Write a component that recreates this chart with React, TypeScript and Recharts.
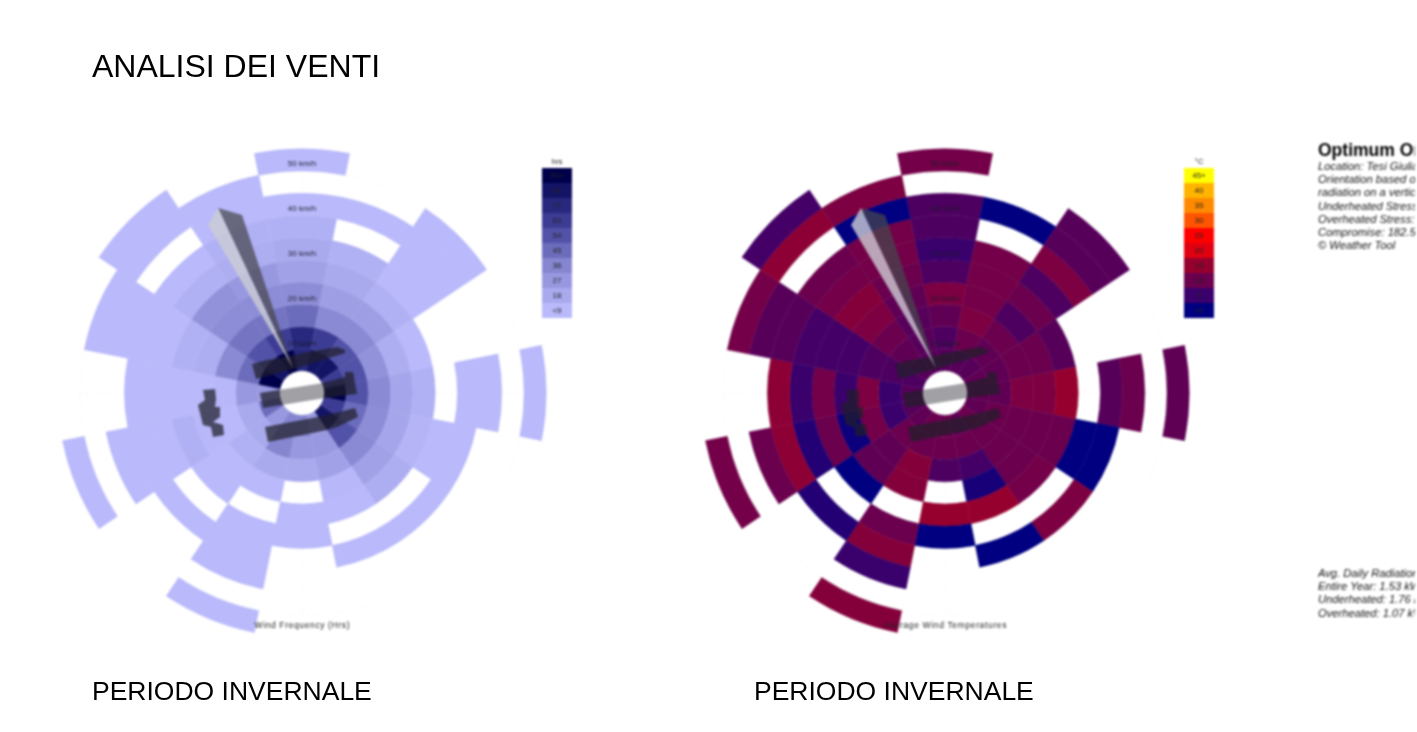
import React from "react";
import { Cell, Pie, PieChart } from "recharts";

// one row per speed ring (5 km/h wide), 16 directions clockwise from N, null = no wind recorded
const hoursRing1 = [72, 81, 81, 63, 90, 63, 81, 27, 36, 36, 27, 45, 27, 90, 81, 90];
const hoursRing2 = [72, 63, 54, 54, 54, 45, 54, 27, 27, 36, 18, 18, 27, 45, 54, 63];
const hoursRing3 = [45, 34, 34, 30, 34, 32, 34, 22, 18, 18, 14, 9, 10, 34, 42, 42];
const hoursRing4 = [32, 24, 24, 16, 20, 20, 22, 10, null, 9, 9, 10, 9, 16, 32, 32];
const hoursRing5 = [22, 18, 14, 9, 14, 12, 16, 9, 9, null, 9, 14, 9, 14, 30, 27];
const hoursRing6 = [18, 14, 9, null, null, 9, null, null, 9, 9, null, 9, 9, 9, 14, 16];
const hoursRing7 = [14, null, 9, null, 9, 9, 9, 9, null, 9, 9, 9, 9, 9, 9, 14];
const hoursRing8 = [9, 9, 9, null, 9, null, null, null, null, 9, null, 9, null, 9, null, 9];
const hoursRing9 = [null, null, 9, null, null, null, null, null, null, null, null, null, null, 9, 9, 9];
const hoursRing10 = [9, null, null, null, 9, null, null, null, null, 9, null, 9, null, null, 9, null];

const tempRing1 = [8, 8, 8, 9, 9, 9, 10, 9, 10, 10, 9, 8, 8, 7, 8, 8];
const tempRing2 = [7, 10, 9, 9, 9, 10, 10, 10, 10, 10, 10, 5, 5, 7, 9, 8];
const tempRing3 = [9, 12, 10, 10, 12, 10, 10, 6, 7, 13, 9, 11, 12, 7, 10, 8];
const tempRing4 = [12, 11, 7, 10, 12, 10, 10, 2, null, 13, 9, 1, 5, 6, 12, 9];
const tempRing5 = [7, 11, 10, 8, 15, 10, 11, 15, 15, null, 0, 10, 11, 6, 13, 10];
const tempRing6 = [5, 11, 7, null, null, 0, null, null, 0, 10, null, 3, 5, 6, 11, 11];
const tempRing7 = [7, null, 12, null, 8, 0, 12, 0, null, 13, 3, 14, 14, 8, 10, 11];
const tempRing8 = [7, 0, 8, null, 10, null, null, null, null, 5, null, 10, null, 8, null, 0];
const tempRing9 = [null, null, 8, null, null, null, null, null, null, null, null, null, null, 11, 14, 12];
const tempRing10 = [11, null, null, null, 9, null, null, null, null, 13, null, 11, null, null, 6, null];

const hoursRings = [hoursRing1, hoursRing2, hoursRing3, hoursRing4, hoursRing5, hoursRing6, hoursRing7, hoursRing8, hoursRing9, hoursRing10];
const tempRings = [tempRing1, tempRing2, tempRing3, tempRing4, tempRing5, tempRing6, tempRing7, tempRing8, tempRing9, tempRing10];

const directions = ["N", "NNE", "NE", "ENE", "E", "ESE", "SE", "SSE", "S", "SSW", "SW", "WSW", "W", "WNW", "NW", "NNW"];

// legends, bottom to top
const hoursLabels = ["<9", "18", "27", "36", "45", "54", "63", "72", "81", "90+"];
const hoursColors = ["#b9b9fb", "#a9a9ee", "#9898e0", "#8585d0", "#6c6cbc", "#5252a8", "#3c3c94", "#28287e", "#141466", "#00004a"];
const tempLabels = ["<0", "5", "10", "15", "20", "25", "30", "35", "40", "45+"];
const tempColors = ["#000080", "#3a006c", "#6a004e", "#96002f", "#e00010", "#ff0000", "#ff5500", "#ff8a00", "#ffb400", "#ffff00"];

const speedLabels = ["10 km/h", "20 km/h", "30 km/h", "40 km/h", "50 km/h"];
const infoTop = [
  "Location: Tesi Giulia, Italia",
  "Orientation based on average daily",
  "radiation on a vertical surface.",
  "Underheated Stress: 180.0 degrees",
  "Overheated Stress: 185.0 degrees",
  "Compromise: 182.5 degrees",
  "© Weather Tool",
];
const infoBottom = [
  "Avg. Daily Radiation",
  "Entire Year: 1.53 kWh/m²",
  "Underheated: 1.76 kWh/m²",
  "Overheated: 1.07 kWh/m²",
];

const RING = 22.2;
const SIZE = 520;
const MID = SIZE / 2;
const FONT = "'Liberation Sans', Arial, sans-serif";

const hex = (c: string) => [1, 3, 5].map((i) => parseInt(c.slice(i, i + 2), 16));

// blend between two neighbouring legend steps
const blend = (colors: string[], pos: number) => {
  const p = Math.max(0, Math.min(colors.length - 1, pos));
  const i = Math.min(colors.length - 2, Math.floor(p));
  const a = hex(colors[i]);
  const b = hex(colors[i + 1]);
  return `rgb(${a.map((x, k) => Math.round(x + (b[k] - x) * (p - i))).join(",")})`;
};
const hoursColor = (v: number) => blend(hoursColors, v / 9 - 1);
const tempColor = (v: number) => blend(tempColors, v / 5);

// sketch shapes on top of the roses, px from the rose centre
const buildings = [
  "-50,-29 -35,-33 -15,-36 1,-40 35,-46 43,-43 43,-40 -5,-25 -46,-14",
  "-42,0 21,-10 43,-16 43,-21 51,-21 55,1 45,2 23,5 -39,15",
  "-37,34 26,22 53,15 56,24 35,34 25,37 -34,49",
  "-99,-3 -87,-4 -86,6 -87,14 -82,14 -82,24 -89,29 -79,32 -78,42 -89,44 -91,34 -99,32 -104,12 -97,7",
];

function Rose({ left, rings, colorOf, caption, captionWidth }: any) {
  return (
    <div style={{ position: "absolute", left: left - MID, top: 393 - MID, width: SIZE, height: SIZE }}>
      <svg width={SIZE} height={SIZE} style={{ position: "absolute", left: 0, top: 0 }}>
        <g transform={`translate(${MID} ${MID})`}>
          <circle r={RING * 10} fill="none" stroke="#e8e8e8" strokeDasharray="1 5" />
          <line x1={-RING * 10} x2={RING * 10} y1={0} y2={0} stroke="#e8e8e8" strokeDasharray="1 5" />
          <line y1={-RING * 10} y2={RING * 10} x1={0} x2={0} stroke="#e8e8e8" strokeDasharray="1 5" />
        </g>
      </svg>
      <PieChart width={SIZE} height={SIZE} margin={{ top: 0, right: 0, bottom: 0, left: 0 }}>
        {rings.map((ring: (number | null)[], r: number) => (
          <Pie
            key={r}
            data={directions.map((dir, i) => ({ dir, slice: 1, value: ring[i] }))}
            dataKey="slice"
            nameKey="dir"
            cx={MID}
            cy={MID}
            innerRadius={RING * (r + 1)}
            outerRadius={RING * (r + 2)}
            startAngle={101.25}
            endAngle={-258.75}
            legendType="none"
            isAnimationActive={false}
          >
            {ring.map((v, i) => (
              <Cell
                key={i}
                fill={v === null ? "transparent" : colorOf(v)}
                stroke={v === null ? "none" : colorOf(v)}
                strokeWidth={0.5}
              />
            ))}
          </Pie>
        ))}
      </PieChart>
      <svg width={SIZE} height={SIZE} style={{ position: "absolute", left: 0, top: 0 }}>
        <g transform={`translate(${MID} ${MID})`}>
          {buildings.map((p) => (
            <polygon key={p} points={p} fill="rgba(32,30,42,0.72)" />
          ))}
          <circle r={RING} fill="#fff" opacity={0.42} />
          <polygon points="-9,-25 -84,-185 -60,-178" fill="rgba(70,70,78,0.72)" />
          <polygon points="-9,-25 -84,-185 -94,-168" fill="rgba(205,205,212,0.8)" />
          {speedLabels.map((s, i) => (
            <text key={s} x={0} y={-47 - i * 45} textAnchor="middle" fontSize={8} fontFamily={FONT} fill="#1c1c2c">
              {s}
            </text>
          ))}
          <text x={0} y={235} textAnchor="middle" fontSize={8.5} textLength={captionWidth} fontFamily={FONT} fill="#222">
            {caption}
          </text>
        </g>
      </svg>
    </div>
  );
}

function ColorLegend({ left, title, labels, colors }: any) {
  return (
    <div style={{ position: "absolute", left, top: 157, width: 30, fontFamily: FONT, fontSize: 8, textAlign: "center", color: "#222" }}>
      <div style={{ height: 11, lineHeight: "9px" }}>{title}</div>
      {[...labels].reverse().map((label: string, i: number) => (
        <div key={label} style={{ height: 15, lineHeight: "15px", background: colors[labels.length - 1 - i] }}>
          {label}
        </div>
      ))}
    </div>
  );
}

function Heading({ x, y, size, children }: any) {
  return (
    <div style={{ position: "absolute", left: x, top: y, fontFamily: FONT, fontSize: size, lineHeight: 1, color: "#000", whiteSpace: "nowrap" }}>
      {children}
    </div>
  );
}

function InfoLines({ top, lines }: any) {
  return (
    <div style={{ position: "absolute", left: 0, top, fontFamily: FONT, fontSize: 11.2, lineHeight: "13.2px", fontStyle: "italic", color: "#111", whiteSpace: "nowrap" }}>
      {lines.map((l: string) => (
        <div key={l}>{l}</div>
      ))}
    </div>
  );
}

export default function App() {
  return (
    <div style={{ position: "fixed", left: 0, top: 0, width: 1417, height: 732, overflow: "hidden", background: "#fff" }}>
      <div style={{ position: "absolute", inset: 0, filter: "blur(0.8px)" }}>
        <Rose left={302} rings={hoursRings} colorOf={hoursColor} caption="Wind Frequency (Hrs)" captionWidth={95} />
        <Rose left={945} rings={tempRings} colorOf={tempColor} caption="Average Wind Temperatures" captionWidth={123} />
        <ColorLegend left={542} title="hrs" labels={hoursLabels} colors={hoursColors} />
        <ColorLegend left={1184} title="°C" labels={tempLabels} colors={tempColors} />
        {/* the source picture is cropped just before the window edge */}
        <div style={{ position: "absolute", left: 1318, top: 0, width: 97, height: 732, overflow: "hidden" }}>
          <div style={{ position: "absolute", left: 0, top: 142, fontFamily: FONT, fontSize: 17.5, lineHeight: 1, fontWeight: "bold", color: "#000", whiteSpace: "nowrap" }}>
            Optimum Orientation
          </div>
          <InfoLines top={160} lines={infoTop} />
          <InfoLines top={567} lines={infoBottom} />
        </div>
      </div>
      <div style={{ position: "absolute", inset: 0, filter: "blur(0.4px)" }}>
        <Heading x={92} y={50} size={32}>ANALISI DEI VENTI</Heading>
        <Heading x={92} y={678} size={26.5}>PERIODO INVERNALE</Heading>
        <Heading x={754} y={678} size={26.5}>PERIODO INVERNALE</Heading>
      </div>
    </div>
  );
}
